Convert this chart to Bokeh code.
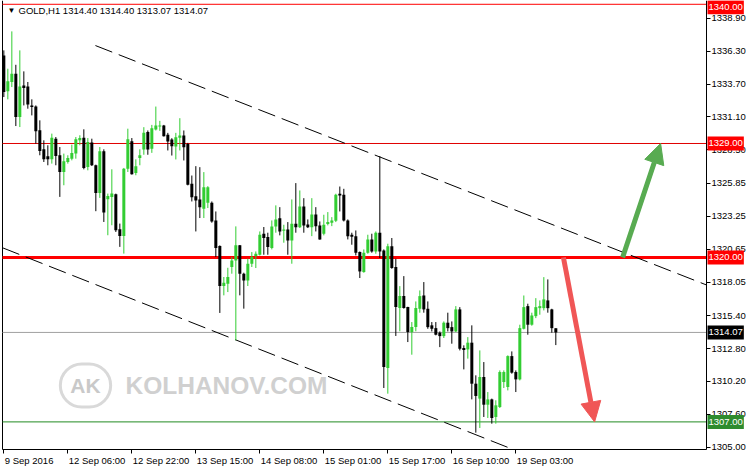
from bokeh.plotting import figure
from bokeh.models import (FixedTicker, PrintfTickFormatter, Label, Arrow, LinearAxis,
                          NormalHead, ColumnDataSource, Range1d)
from bokeh.embed import file_html
from bokeh.resources import INLINE

# ---------------- data (GOLD, H1) ----------------
opens = [1335.96, 1333.12, 1333.86, 1334.51, 1331.09, 1333.59, 1333.51, 1332.01, 1331.93, 1330.04,
         1328.54, 1327.99, 1327.75, 1329.38, 1328.07, 1326.75, 1327.54, 1327.80, 1328.20, 1329.25,
         1329.46, 1327.15, 1329.07, 1327.28, 1325.09, 1328.38, 1324.59, 1324.78, 1324.99, 1322.22,
         1321.70, 1327.01, 1329.17, 1326.67, 1327.86, 1328.53, 1329.90, 1328.58, 1330.10, 1330.34,
         1330.42, 1329.69, 1329.32, 1328.76, 1329.45, 1329.63, 1328.97, 1325.82, 1324.84, 1324.58,
         1323.84, 1324.32, 1324.32, 1322.92, 1320.90, 1317.74, 1317.92, 1319.24, 1319.76, 1320.95,
         1318.71, 1318.18, 1319.50, 1320.11, 1320.21, 1321.87, 1321.61, 1320.74, 1322.45, 1323.10,
         1322.10, 1322.21, 1321.34, 1322.66, 1322.39, 1324.03, 1322.60, 1322.39, 1323.39, 1322.53,
         1321.87, 1322.63, 1322.74, 1322.89, 1325.03, 1324.95, 1322.92, 1321.79, 1321.68, 1320.42,
         1318.84, 1320.37, 1321.42, 1320.47, 1321.95, 1320.55, 1311.26, 1320.89, 1319.24, 1316.00,
         1316.95, 1316.08, 1314.10, 1314.50, 1315.94, 1316.99, 1315.94, 1314.63, 1314.41, 1314.05,
         1313.78, 1314.84, 1314.49, 1314.15, 1315.89, 1312.84, 1312.73, 1313.26, 1310.02, 1308.84,
         1310.55, 1308.36, 1308.78, 1307.39, 1308.18, 1310.15, 1309.76, 1312.20, 1310.94, 1310.36,
         1314.36, 1316.15, 1314.68, 1315.36, 1315.99, 1315.99, 1316.60, 1315.89, 1314.40]
highs = [1336.36, 1334.91, 1337.86, 1335.22, 1336.36, 1334.70, 1333.86, 1332.49, 1332.01, 1330.83,
         1329.25, 1328.86, 1329.78, 1329.51, 1328.72, 1328.20, 1328.07, 1328.91, 1329.51, 1329.65,
         1330.12, 1329.43, 1329.38, 1327.33, 1328.72, 1328.54, 1325.04, 1326.96, 1325.04, 1322.67,
         1327.07, 1330.17, 1329.43, 1327.75, 1328.54, 1330.29, 1330.03, 1330.47, 1331.92, 1330.79,
         1330.47, 1329.84, 1329.42, 1329.84, 1331.00, 1330.03, 1329.05, 1326.47, 1327.21, 1327.13,
         1326.74, 1325.63, 1324.42, 1323.63, 1320.95, 1318.45, 1319.18, 1320.03, 1322.45, 1320.98,
         1318.79, 1319.90, 1320.42, 1320.47, 1322.05, 1322.40, 1321.95, 1322.92, 1324.11, 1323.97,
         1322.58, 1322.79, 1324.58, 1325.87, 1325.29, 1324.68, 1323.00, 1324.68, 1323.97, 1322.84,
         1323.37, 1323.58, 1323.18, 1325.03, 1325.60, 1325.42, 1323.00, 1321.95, 1322.13, 1320.47,
         1320.63, 1321.79, 1321.87, 1322.05, 1328.00, 1320.63, 1321.08, 1321.53, 1319.89, 1317.73,
         1318.52, 1316.10, 1314.89, 1316.52, 1317.39, 1318.05, 1316.52, 1314.89, 1314.89, 1314.15,
         1314.94, 1315.63, 1314.94, 1316.15, 1316.07, 1313.05, 1313.70, 1314.63, 1310.68, 1312.65,
         1311.73, 1309.36, 1308.84, 1308.71, 1311.07, 1311.07, 1312.26, 1312.57, 1311.07, 1314.68,
         1316.99, 1316.34, 1315.63, 1316.78, 1316.60, 1318.44, 1318.26, 1315.94, 1314.40]
lows = [1332.67, 1332.49, 1333.46, 1330.38, 1330.30, 1332.01, 1331.75, 1331.22, 1328.99, 1328.07,
        1327.54, 1327.28, 1327.41, 1327.28, 1324.78, 1325.70, 1327.41, 1327.67, 1327.80, 1328.86,
        1326.96, 1326.88, 1327.22, 1323.65, 1324.70, 1322.80, 1321.75, 1322.54, 1322.01, 1320.83,
        1320.30, 1326.75, 1326.54, 1326.49, 1327.28, 1328.11, 1328.11, 1328.26, 1330.03, 1330.00,
        1329.55, 1328.45, 1328.05, 1327.74, 1328.45, 1327.66, 1325.69, 1324.42, 1322.05, 1323.11,
        1323.11, 1323.90, 1322.74, 1320.03, 1315.61, 1317.00, 1317.26, 1318.71, 1313.45, 1317.00,
        1315.95, 1317.74, 1319.24, 1319.16, 1320.15, 1320.21, 1320.21, 1320.63, 1321.95, 1321.74,
        1321.16, 1320.21, 1319.50, 1321.95, 1322.32, 1321.95, 1322.32, 1321.68, 1322.05, 1321.40,
        1321.74, 1322.53, 1322.47, 1322.79, 1323.63, 1322.84, 1321.42, 1321.00, 1320.16, 1318.37,
        1318.79, 1320.29, 1320.37, 1320.29, 1319.95, 1309.68, 1309.23, 1319.10, 1313.79, 1314.16,
        1315.95, 1313.31, 1312.31, 1314.16, 1315.63, 1315.63, 1314.36, 1314.15, 1313.84, 1312.91,
        1313.63, 1314.15, 1313.18, 1314.10, 1312.65, 1311.15, 1312.00, 1308.78, 1306.15, 1306.52,
        1307.39, 1307.31, 1306.86, 1306.86, 1308.10, 1309.68, 1309.49, 1310.81, 1309.36, 1310.28,
        1314.31, 1313.89, 1314.60, 1315.20, 1315.47, 1315.81, 1315.63, 1314.05, 1313.07]
closes = [1333.07, 1333.91, 1334.51, 1331.09, 1333.51, 1333.38, 1332.09, 1331.88, 1329.96, 1328.41,
          1327.75, 1327.75, 1329.46, 1328.01, 1326.75, 1327.59, 1327.86, 1328.25, 1329.33, 1329.43,
          1327.07, 1329.12, 1327.28, 1325.09, 1328.38, 1323.54, 1324.86, 1325.04, 1322.14, 1321.70,
          1327.01, 1329.33, 1326.57, 1327.20, 1328.07, 1329.84, 1328.53, 1330.21, 1330.42, 1330.42,
          1329.58, 1329.16, 1328.79, 1329.50, 1329.63, 1328.71, 1325.74, 1324.76, 1324.50, 1323.97,
          1325.55, 1325.55, 1322.84, 1320.74, 1317.74, 1318.00, 1318.45, 1319.76, 1320.95, 1318.71,
          1318.18, 1319.50, 1320.03, 1320.29, 1321.79, 1321.53, 1320.82, 1322.45, 1323.00, 1322.05,
          1322.21, 1321.34, 1322.66, 1322.39, 1324.03, 1322.53, 1322.39, 1323.39, 1322.47, 1321.42,
          1322.58, 1322.79, 1322.92, 1324.95, 1324.89, 1322.92, 1321.68, 1321.63, 1320.37, 1318.89,
          1320.37, 1321.42, 1320.47, 1321.95, 1320.47, 1311.34, 1320.89, 1319.16, 1316.08, 1316.95,
          1316.00, 1314.10, 1314.50, 1316.00, 1316.94, 1315.89, 1314.49, 1314.36, 1313.89, 1313.78,
          1314.84, 1314.41, 1314.15, 1315.89, 1312.78, 1312.68, 1313.26, 1310.02, 1309.05, 1310.55,
          1308.36, 1308.78, 1307.31, 1308.31, 1310.94, 1310.94, 1312.20, 1310.89, 1310.36, 1314.41,
          1316.07, 1314.68, 1315.41, 1316.07, 1316.15, 1316.68, 1315.99, 1314.41, 1314.07]

time_ticks = [0, 16, 32, 48, 64, 80, 96, 112, 128]
time_labels = ["9 Sep 2016", "12 Sep 06:00", "12 Sep 22:00", "13 Sep 15:00", "14 Sep 08:00",
               "15 Sep 01:00", "15 Sep 17:00", "16 Sep 10:00", "19 Sep 03:00"]
price_ticks = [1305.00, 1307.60, 1310.20, 1312.80, 1315.40, 1318.05, 1320.65, 1323.25,
               1325.85, 1328.50, 1331.10, 1333.70, 1336.30, 1338.90]

level_prices = [1340.00, 1329.00, 1320.00, 1314.07, 1307.00]
level_texts = ["1340.00", "1329.00", "1320.00", "1314.07", "1307.00"]
level_colors = ["#ff0000", "#e00000", "#ff0000", "#a0a0a0", "#228b22"]
level_widths = [1, 1, 3, 1, 1]
box_colors = ["#ff0000", "#ff0000", "#ff0000", "#000000", "#2e8b2e"]
box_nudge = [-3, 0, 0, 0, 0]   # keep the top box inside the window

# channel (bar index, price)
upper_x = [22.9, 175.67]
upper_y = [1336.74, 1317.82]
lower_x = [-0.33, 126.7]
lower_y = [1320.76, 1304.90]

# arrows (bar index, price)
red_arrow = dict(x0=139.9, y0=1320.0, x1=147.7, y1=1307.0)
green_arrow = dict(x0=154.7, y0=1320.0, x1=164.2, y1=1329.0)

title_text = "GOLD,H1  1314.40 1314.40 1313.07 1314.07"

# chart area (bar index / price at the plot borders) and whole canvas span
X_LO, X_HI = -0.33, 175.67
Y_LO, Y_HI = 1304.82, 1340.30
CANVAS_X = (-0.833, 186.17)
CANVAS_Y = (1303.16, 1340.30)

FONT = "Liberation Sans"
FS = "9.5px"

# ---------------- build ----------------
idx = list(range(len(opens)))
bull = [c >= o for o, c in zip(opens, closes)]
src = ColumnDataSource(dict(
    x=idx,
    top=[max(o, c) for o, c in zip(opens, closes)],
    bottom=[min(o, c) for o, c in zip(opens, closes)],
    high=highs, low=lows,
    color=["#32cd32" if b else "#000000" for b in bull],
))

p = figure(width=748, height=470, output_backend="svg", toolbar_location=None,
           x_range=Range1d(*CANVAS_X), y_range=Range1d(*CANVAS_Y),
           x_axis_location=None, y_axis_location=None,
           min_border_left=0, min_border_top=0, min_border_right=0, min_border_bottom=0)
p.background_fill_color = "white"
p.border_fill_color = "white"
p.outline_line_color = None
p.grid.visible = False

# watermark
p.add_layout(Label(x=85, y=85, x_units="screen", y_units="screen", text="AK",
                   text_font=FONT, text_font_style="bold", text_font_size="21px",
                   text_color="#c9c9c9", text_align="center", text_baseline="middle",
                   border_line_color="#d9d9d9", border_line_width=3, border_radius=24,
                   padding=10))
p.add_layout(Label(x=125, y=85, x_units="screen", y_units="screen", text="KOLHANOV.COM",
                   text_font=FONT, text_font_style="bold", text_font_size="24.5px",
                   text_color="#d0d0d0", text_align="left", text_baseline="middle"))

# left border of the chart area
p.segment(x0=[X_LO], y0=[Y_LO], x1=[X_LO], y1=[Y_HI], line_color="black", line_width=1)

# horizontal levels
p.segment(x0=[X_LO] * len(level_prices), y0=level_prices,
          x1=[X_HI] * len(level_prices), y1=level_prices,
          line_color=level_colors, line_width=level_widths)

# channel lines
p.line(upper_x, upper_y, line_color="black", line_width=1, line_dash="18 7")
p.line(lower_x, lower_y, line_color="black", line_width=1, line_dash="18 7")

# candles
p.segment(x0="x", y0="low", x1="x", y1="high", line_color="color", line_width=1, source=src)
p.vbar(x="x", width=0.75, top="top", bottom="bottom", fill_color="color",
       line_color=None, source=src)

# arrows
p.add_layout(Arrow(end=NormalHead(size=20, fill_color="#f05656", line_color="#f05656"),
                   x_start=red_arrow["x0"], y_start=red_arrow["y0"],
                   x_end=red_arrow["x1"], y_end=red_arrow["y1"],
                   line_color="#f05656", line_width=5))
p.add_layout(Arrow(end=NormalHead(size=20, fill_color="#58ab51", line_color="#58ab51"),
                   x_start=green_arrow["x0"], y_start=green_arrow["y0"],
                   x_end=green_arrow["x1"], y_end=green_arrow["y1"],
                   line_color="#58ab51", line_width=5))

# axes placed at the chart-area borders
xaxis = LinearAxis(fixed_location=Y_LO, bounds=(X_LO, X_HI),
                   ticker=FixedTicker(ticks=time_ticks),
                   major_label_overrides={t: "" for t in time_ticks})
yaxis = LinearAxis(fixed_location=X_HI, bounds=(Y_LO, Y_HI),
                   ticker=FixedTicker(ticks=price_ticks),
                   formatter=PrintfTickFormatter(format="%.2f"))
for ax in (xaxis, yaxis):
    ax.major_tick_out = 4
    ax.major_tick_in = 0
    ax.minor_tick_line_color = None
    ax.axis_line_color = "black"
    ax.major_tick_line_color = "black"
    ax.major_label_text_font = FONT
    ax.major_label_text_font_size = FS
    ax.major_label_text_color = "black"
    ax.major_label_standoff = 1
p.add_layout(xaxis, "below")
p.add_layout(yaxis, "right")

# time labels, left-aligned at their ticks (MetaTrader style)
for t, lab in zip(time_ticks, time_labels):
    p.add_layout(Label(x=t, y=10, x_units="data", y_units="screen", text=lab,
                       x_offset=1, text_font=FONT, text_font_size=FS, text_color="black",
                       text_align="left", text_baseline="middle"))

# price boxes on the right scale
for pr, txt, col, nd in zip(level_prices, level_texts, box_colors, box_nudge):
    p.add_layout(Label(x=707, y=pr, x_units="screen", y_units="data", text=txt,
                       y_offset=nd, text_font=FONT, text_font_size=FS, text_color="white",
                       text_align="left", text_baseline="middle",
                       background_fill_color=col, padding=(1, 4)))

# title
p.add_layout(Label(x=7, y=460, x_units="screen", y_units="screen", text="\u25bc",
                   text_font=FONT, text_font_size="8px", text_color="black",
                   text_align="left", text_baseline="middle"))
p.add_layout(Label(x=18, y=460, x_units="screen", y_units="screen", text=title_text,
                   text_font=FONT, text_font_size=FS, text_color="black",
                   text_align="left", text_baseline="middle"))

open("out.html", "w").write(file_html(p, INLINE))
